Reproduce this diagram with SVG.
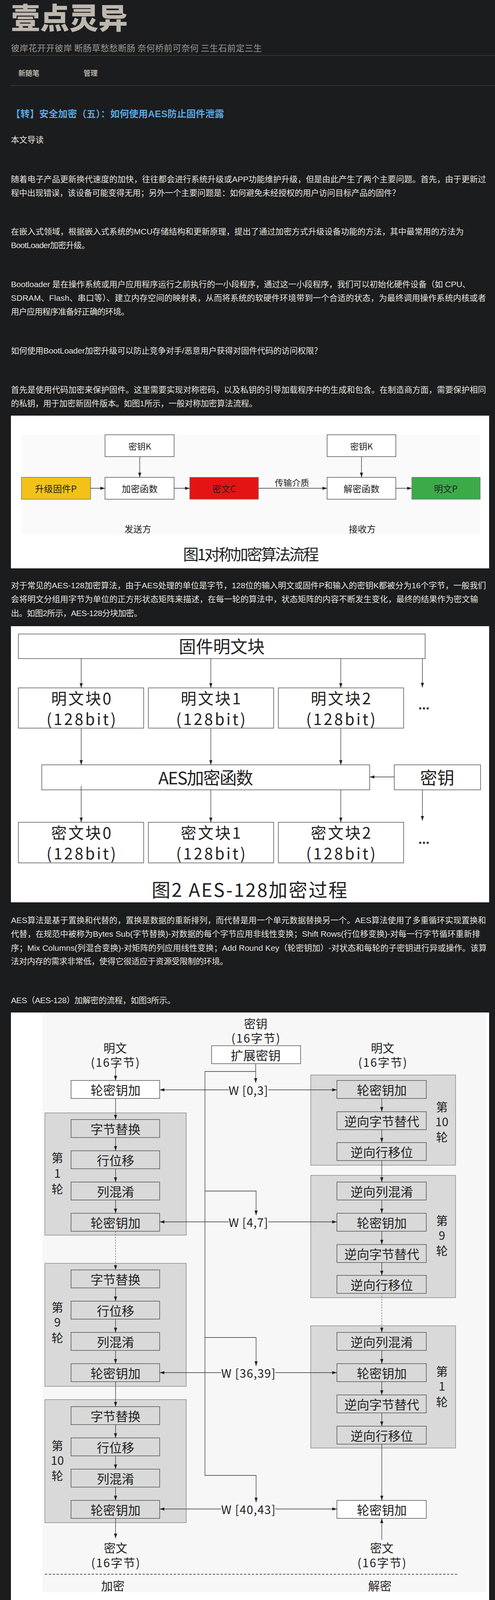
<svg xmlns="http://www.w3.org/2000/svg" width="1268" height="6971" viewBox="0 0 1268 6971">
<style>
.body{font-family:"Liberation Sans","Noto Sans CJK SC",sans-serif;font-size:21px;fill:#e6e3de;dominant-baseline:central}
.dg{font-family:"Noto Sans CJK SC","Liberation Sans",sans-serif;fill:#222;text-anchor:middle;dominant-baseline:central}
.box{fill:#fff;stroke:#555;stroke-width:1.5}
.grp{fill:#d9d9d9;stroke:#8a8a8a;stroke-width:1.5}
.gbox{fill:#d9d9d9;stroke:#555;stroke-width:1.5}
.fbox{fill:#fff;stroke:#222;stroke-width:2.5}
.ln{stroke:#333;stroke-width:1.3;fill:none}
.ln2{stroke:#222;stroke-width:1.5;fill:none}
.dash{stroke:#555;stroke-width:1.2;fill:none;stroke-dasharray:4 3}
.hr{stroke:#3c3f43;stroke-width:1.5}
</style>
<defs>
<marker id="a1" viewBox="0 0 12 8" refX="12" refY="4" markerWidth="12" markerHeight="8" orient="auto" markerUnits="userSpaceOnUse"><path d="M0,0L12,4L0,8z" fill="#222"/></marker>
<marker id="a2" viewBox="0 0 16 12" refX="16" refY="6" markerWidth="16" markerHeight="12" orient="auto" markerUnits="userSpaceOnUse"><path d="M0,0L16,6L0,12z" fill="#111"/></marker>
</defs>
<rect x="0" y="0" width="1268" height="6971" fill="#1b1c1e"/>

<g id="header">
<text x="28" y="74" font-family="Noto Sans CJK SC,sans-serif" font-size="75" font-weight="900" fill="#bdb7ae" textLength="299" lengthAdjust="spacingAndGlyphs">壹点灵异</text>
<text x="28" y="121" font-family="Noto Sans CJK SC,sans-serif" font-size="22" fill="#9c9890" dominant-baseline="central" textLength="643">彼岸花开开彼岸 断肠草愁愁断肠 奈何桥前可奈何 三生石前定三生</text>
<line class="hr" x1="28" y1="142" x2="1268" y2="142"/>
<text x="47" y="186" font-family="Noto Sans CJK SC,sans-serif" font-size="18" font-weight="bold" fill="#b5b0a8" dominant-baseline="central">新随笔</text>
<text x="214" y="186" font-family="Noto Sans CJK SC,sans-serif" font-size="18" font-weight="bold" fill="#b5b0a8" dominant-baseline="central">管理</text>
<line class="hr" x1="28" y1="219" x2="1268" y2="219"/>
<text x="28" y="291" font-family="Liberation Sans,Noto Sans CJK SC,sans-serif" font-size="24" font-weight="bold" fill="#5aa9e0" dominant-baseline="central" textLength="546">【转】安全加密（五）：如何使用AES防止固件泄露</text>
</g>

<g id="article-text">
<text class="body" x="28" y="357" textLength="84">本文导读</text>
<text class="body" x="28" y="458" textLength="1217">随着电子产品更新换代速度的加快，往往都会进行系统升级或APP功能维护升级，但是由此产生了两个主要问题。首先，由于更新过</text>
<text class="body" x="28" y="493" textLength="997">程中出现错误，该设备可能变得无用；另外一个主要问题是：如何避免未经授权的用户访问目标产品的固件？</text>
<text class="body" x="28" y="592" textLength="1160">在嵌入式领域，根据嵌入式系统的MCU存储结构和更新原理，提出了通过加密方式升级设备功能的方法，其中最常用的方法为</text>
<text class="body" x="28" y="627" textLength="202">BootLoader加密升级。</text>
<text class="body" x="28" y="727" textLength="1177">Bootloader 是在操作系统或用户应用程序运行之前执行的一小段程序，通过这一小段程序，我们可以初始化硬件设备（如 CPU、</text>
<text class="body" x="28" y="762" textLength="1217">SDRAM、Flash、串口等）、建立内存空间的映射表，从而将系统的软硬件环境带到一个合适的状态，为最终调用操作系统内核或者</text>
<text class="body" x="28" y="797" textLength="303">用户应用程序准备好正确的环境。</text>
<text class="body" x="28" y="897" textLength="797">如何使用BootLoader加密升级可以防止竞争对手/恶意用户获得对固件代码的访问权限？</text>
<text class="body" x="28" y="997" textLength="1217">首先是使用代码加密来保护固件。这里需要实现对称密码，以及私钥的引导加载程序中的生成和包含。在制造商方面，需要保护相同</text>
<text class="body" x="28" y="1032" textLength="631">的私钥，用于加密新固件版本。如图1所示，一般对称加密算法流程。</text>
<text class="body" x="28" y="1498" textLength="1217">对于常见的AES-128加密算法，由于AES处理的单位是字节，128位的输入明文或固件P和输入的密钥K都被分为16个字节，一般我们</text>
<text class="body" x="28" y="1533" textLength="1197">会将明文分组用字节为单位的正方形状态矩阵来描述，在每一轮的算法中，状态矩阵的内容不断发生变化，最终的结果作为密文输</text>
<text class="body" x="28" y="1569" textLength="336">出。如图2所示，AES-128分块加密。</text>
<text class="body" x="28" y="2355" textLength="1217">AES算法是基于置换和代替的，置换是数据的重新排列，而代替是用一个单元数据替换另一个。AES算法使用了多重循环实现置换和</text>
<text class="body" x="28" y="2390" textLength="1202">代替，在规范中被称为Bytes Sub(字节替换)-对数据的每个字节应用非线性变换；Shift Rows(行位移变换)-对每一行字节循环重新排</text>
<text class="body" x="28" y="2426" textLength="1219">序；Mix Columns(列混合变换)-对矩阵的列应用线性变换；Add Round Key（轮密钥加）-对状态和每轮的子密钥进行异或操作。该算</text>
<text class="body" x="28" y="2460" textLength="556">法对内存的需求非常低，使得它很适应于资源受限制的环境。</text>
<text class="body" x="28" y="2560" textLength="421">AES（AES-128）加解密的流程，如图3所示。</text>
<text class="body" x="28" y="4206" textLength="1217">对于实际AES（AES-128）加密过程中，在第一轮的迭代之前，会将明文和原始密钥进行异或加密运算，然后正常执行从第一轮到第</text>
<text class="body" x="28" y="4241" textLength="1144">九轮一样的加密函数，其中都会包含四个操作：字节代换、行位移、列混合和轮密钥加；在最后一轮迭代不执行列混合运算。</text>
<text class="body" x="28" y="4341" textLength="1210">解密的过程仍然为10轮，每一轮的操作都是加密操作的你操作。由于AES一轮的4个操作都是可逆的，因此解密操作的一轮就是执行</text>
<text class="body" x="28" y="4376" textLength="1217">逆行一位、逆字节代换、轮密钥加和逆列混合；同加密操作类似，最后一轮不执行逆列混合，在第一轮解密之前，执行一次密钥加操</text>
<text class="body" x="28" y="4411">作。</text>
<text class="body" x="28" y="4511" textLength="413">如图4所示，为Boot Loader固件升级流程图。</text>
<text class="body" x="28" y="6463" textLength="1217">用户程序升级成功之后，可以通过函数指针的方式调用该程序。函数在编译时都会被分配一个入口地址，该地址就是函数的指针。只</text>
<text class="body" x="28" y="6499" textLength="1217">要用一个指针变量指向这个函数的入口地址，就可以通过指针变量调用这个函数。函数指针的本质是指针变量，只不过该指针变量指</text>
<text class="body" x="28" y="6534" textLength="704">向函数，读出程序标志区的运行地址就可以通过指针变量调用新写入的程序。</text>
<text class="body" x="28" y="6632" textLength="1209">固件升级的数据加密方案，对于具有IAP功能的芯片具有普遍意义，不仅适用于网络远程升级，同样适用于本地升级。至于加密算法</text>
<text class="body" x="28" y="6669" textLength="332">可以根据MCU的能力进行灵活选择。</text>
<text class="body" x="28" y="6769" textLength="1209">例如NXP推出的跨界MCU-iMX.RT1052系列MCU具有强大的安全组件，出于安全目的，数据协处理器（DCP）提供硬件加速和密码</text>
<text class="body" x="28" y="6804" textLength="926">算法；其内置加密算法：AES-128（ECB和CBC模式）、哈希算法：SHA-1和SHA256、CRC-32等。</text>
<text class="body" x="28" y="6904" textLength="1215">SNVS、DCP内部密钥存储或通用存储器中进行密钥选择，当一个密钥被写入时，内部存储器可存储多达四个AES-128密钥，它只能</text>
<text class="body" x="28" y="6939" textLength="247">由DCP AES-128引擎读取。</text>
</g>

<!-- Figure 1 -->
<g id="fig1">
<rect x="28" y="1064" width="1225" height="391" fill="#fff"/>
<rect x="55" y="1113" width="1174" height="254" fill="#fafafa"/>
<g id="fig1-key1"><rect class="box" x="269" y="1113" width="177" height="56"/><text class="dg" x="358" y="1141" font-size="22">密钥K</text></g>
<g id="fig1-key2"><rect class="box" x="838" y="1113" width="176" height="56"/><text class="dg" x="926" y="1141" font-size="22">密钥K</text></g>
<g id="fig1-plain"><rect x="55" y="1222" width="177" height="56" fill="#f2c218" stroke="#777" stroke-width="1.5"/><text class="dg" x="143" y="1250" font-size="23" fill="#333">升级固件P</text></g>
<g id="fig1-enc"><rect class="box" x="269" y="1222" width="177" height="56"/><text class="dg" x="358" y="1250" font-size="23">加密函数</text></g>
<g id="fig1-cipher"><rect x="486" y="1222" width="176" height="56" fill="#e51414" stroke="#777" stroke-width="1.5"/><text class="dg" x="574" y="1250" font-size="23" fill="#3a1010">密文C</text></g>
<g id="fig1-dec"><rect class="box" x="838" y="1222" width="176" height="56"/><text class="dg" x="926" y="1250" font-size="23">解密函数</text></g>
<g id="fig1-out"><rect x="1055" y="1222" width="175" height="56" fill="#3daa4a" stroke="#777" stroke-width="1.5"/><text class="dg" x="1142" y="1250" font-size="23" fill="#333">明文P</text></g>
<text class="dg" x="748" y="1234" font-size="22">传输介质</text>
<text class="dg" x="353" y="1353" font-size="23">发送方</text>
<text class="dg" x="928" y="1353" font-size="23">接收方</text>
<text class="dg" x="643" y="1417" font-size="40" fill="#333" textLength="348">图1对称加密算法流程</text>
</g>

<!-- Figure 2 -->
<g id="fig2">
<rect x="28" y="1603" width="1225" height="707" fill="#fff"/>
<g id="fig2-src"><rect class="box" x="47" y="1623" width="1042" height="63"/><text class="dg" x="568" y="1653" font-size="44">固件明文块</text></g>
<g id="fig2-p0"><rect class="box" x="47" y="1761" width="321" height="103"/><text class="dg" x="208" y="1786" font-size="40" textLength="154">明文块0</text><text class="dg" x="208" y="1839" font-size="40" textLength="178">(128bit)</text></g>
<g id="fig2-p1"><rect class="box" x="380" y="1761" width="321" height="103"/><text class="dg" x="540" y="1786" font-size="40" textLength="154">明文块1</text><text class="dg" x="540" y="1839" font-size="40" textLength="178">(128bit)</text></g>
<g id="fig2-p2"><rect class="box" x="713" y="1761" width="321" height="103"/><text class="dg" x="873" y="1786" font-size="40" textLength="154">明文块2</text><text class="dg" x="873" y="1839" font-size="40" textLength="178">(128bit)</text></g>
<text x="1086" y="1816" font-family="Liberation Sans,sans-serif" font-size="34" font-weight="bold" fill="#222" text-anchor="middle">...</text>
<g id="fig2-aes"><rect class="box" x="107" y="1958" width="840" height="64"/><text class="dg" x="527" y="1989" font-size="44" textLength="243">AES加密函数</text></g>
<g id="fig2-key"><rect class="box" x="1010" y="1958" width="221" height="64"/><text class="dg" x="1120" y="1989" font-size="44">密钥</text></g>
<g id="fig2-c0"><rect class="box" x="47" y="2105" width="321" height="104"/><text class="dg" x="208" y="2130" font-size="40" textLength="154">密文块0</text><text class="dg" x="208" y="2183" font-size="40" textLength="178">(128bit)</text></g>
<g id="fig2-c1"><rect class="box" x="380" y="2105" width="321" height="104"/><text class="dg" x="540" y="2130" font-size="40" textLength="154">密文块1</text><text class="dg" x="540" y="2183" font-size="40" textLength="178">(128bit)</text></g>
<g id="fig2-c2"><rect class="box" x="713" y="2105" width="321" height="104"/><text class="dg" x="873" y="2130" font-size="40" textLength="154">密文块2</text><text class="dg" x="873" y="2183" font-size="40" textLength="178">(128bit)</text></g>
<text x="1086" y="2160" font-family="Liberation Sans,sans-serif" font-size="34" font-weight="bold" fill="#222" text-anchor="middle">...</text>
<text class="dg" x="639" y="2275" font-size="48" fill="#333" textLength="501">图2 AES-128加密过程</text>
</g>

<!-- Figure 3 -->
<g id="fig3">
<rect x="28" y="2592" width="1225" height="1571" fill="#fff"/>
<rect x="109" y="2596" width="1136" height="1480" fill="#f7f7f7"/>
<text class="dg" x="655" y="2619" font-size="30">密钥</text>
<text class="dg" x="655" y="2656" font-size="30" textLength="125">(16字节)</text>
<g id="fig3-expand"><rect class="box" x="542" y="2677" width="228" height="46"/><text class="dg" x="655" y="2700" font-size="32">扩展密钥</text></g>
<text class="dg" x="295" y="2681" font-size="30">明文</text>
<text class="dg" x="295" y="2718" font-size="30" textLength="125">(16字节)</text>
<text class="dg" x="980" y="2681" font-size="30">明文</text>
<text class="dg" x="980" y="2718" font-size="30" textLength="125">(16字节)</text>
<g id="fig3-enc-ark0"><rect class="box" x="182" y="2766" width="227" height="46"/><text class="dg" x="296" y="2789" font-size="32">轮密钥加</text></g>

<g id="fig3-enc-r1">
<rect class="grp" x="115" y="2849" width="362" height="313"/>
<rect class="gbox" x="182" y="2866" width="227" height="46"/><text class="dg" x="296" y="2889" font-size="32">字节替换</text>
<rect class="gbox" x="182" y="2946" width="227" height="46"/><text class="dg" x="296" y="2969" font-size="32">行位移</text>
<rect class="gbox" x="182" y="3026" width="227" height="46"/><text class="dg" x="296" y="3049" font-size="32">列混淆</text>
<rect class="gbox" x="182" y="3106" width="227" height="46"/><text class="dg" x="296" y="3129" font-size="32">轮密钥加</text>
<text class="dg" x="147" y="2962" font-size="30">第</text><text class="dg" x="147" y="3002" font-size="30">1</text><text class="dg" x="147" y="3042" font-size="30">轮</text>
</g>
<g id="fig3-enc-r9">
<rect class="grp" x="115" y="3234" width="362" height="315"/>
<rect class="gbox" x="182" y="3251" width="227" height="46"/><text class="dg" x="296" y="3274" font-size="32">字节替换</text>
<rect class="gbox" x="182" y="3331" width="227" height="46"/><text class="dg" x="296" y="3354" font-size="32">行位移</text>
<rect class="gbox" x="182" y="3411" width="227" height="46"/><text class="dg" x="296" y="3434" font-size="32">列混淆</text>
<rect class="gbox" x="182" y="3491" width="227" height="46"/><text class="dg" x="296" y="3514" font-size="32">轮密钥加</text>
<text class="dg" x="147" y="3345" font-size="30">第</text><text class="dg" x="147" y="3383" font-size="30">9</text><text class="dg" x="147" y="3423" font-size="30">轮</text>
</g>
<g id="fig3-enc-r10">
<rect class="grp" x="115" y="3583" width="362" height="315"/>
<rect class="gbox" x="182" y="3601" width="227" height="46"/><text class="dg" x="296" y="3624" font-size="32">字节替换</text>
<rect class="gbox" x="182" y="3681" width="227" height="46"/><text class="dg" x="296" y="3704" font-size="32">行位移</text>
<rect class="gbox" x="182" y="3761" width="227" height="46"/><text class="dg" x="296" y="3784" font-size="32">列混淆</text>
<rect class="gbox" x="182" y="3841" width="227" height="46"/><text class="dg" x="296" y="3864" font-size="32">轮密钥加</text>
<text class="dg" x="147" y="3699" font-size="30">第</text><text class="dg" x="147" y="3737" font-size="30">10</text><text class="dg" x="147" y="3776" font-size="30">轮</text>
</g>

<g id="fig3-dec-r10">
<rect class="grp" x="796" y="2752" width="371" height="231"/>
<rect class="gbox" x="863" y="2766" width="229" height="46"/><text class="dg" x="978" y="2789" font-size="32">轮密钥加</text>
<rect class="gbox" x="863" y="2846" width="229" height="46"/><text class="dg" x="978" y="2869" font-size="32">逆向字节替代</text>
<rect class="gbox" x="863" y="2925" width="229" height="46"/><text class="dg" x="978" y="2948" font-size="32">逆向行移位</text>
<text class="dg" x="1132" y="2832" font-size="30">第</text><text class="dg" x="1132" y="2870" font-size="30">10</text><text class="dg" x="1132" y="2909" font-size="30">轮</text>
</g>
<g id="fig3-dec-r9">
<rect class="grp" x="796" y="3009" width="371" height="313"/>
<rect class="gbox" x="863" y="3026" width="229" height="46"/><text class="dg" x="978" y="3049" font-size="32">逆向列混淆</text>
<rect class="gbox" x="863" y="3106" width="229" height="46"/><text class="dg" x="978" y="3129" font-size="32">轮密钥加</text>
<rect class="gbox" x="863" y="3186" width="229" height="46"/><text class="dg" x="978" y="3209" font-size="32">逆向字节替代</text>
<rect class="gbox" x="863" y="3265" width="229" height="46"/><text class="dg" x="978" y="3288" font-size="32">逆向行移位</text>
<text class="dg" x="1132" y="3123" font-size="30">第</text><text class="dg" x="1132" y="3161" font-size="30">9</text><text class="dg" x="1132" y="3200" font-size="30">轮</text>
</g>
<g id="fig3-dec-r1">
<rect class="grp" x="796" y="3394" width="371" height="313"/>
<rect class="gbox" x="863" y="3411" width="229" height="46"/><text class="dg" x="978" y="3434" font-size="32">逆向列混淆</text>
<rect class="gbox" x="863" y="3491" width="229" height="46"/><text class="dg" x="978" y="3514" font-size="32">轮密钥加</text>
<rect class="gbox" x="863" y="3571" width="229" height="46"/><text class="dg" x="978" y="3594" font-size="32">逆向字节替代</text>
<rect class="gbox" x="863" y="3651" width="229" height="46"/><text class="dg" x="978" y="3674" font-size="32">逆向行移位</text>
<text class="dg" x="1132" y="3509" font-size="30">第</text><text class="dg" x="1132" y="3547" font-size="30">1</text><text class="dg" x="1132" y="3587" font-size="30">轮</text>
</g>
<g id="fig3-dec-ark"><rect class="box" x="863" y="3841" width="229" height="46"/><text class="dg" x="978" y="3864" font-size="32">轮密钥加</text></g>

<text class="dg" x="636" y="2790" font-size="30" textLength="101">W [0,3]</text>
<text class="dg" x="636" y="3128" font-size="30" textLength="101">W [4,7]</text>
<text class="dg" x="636" y="3514" font-size="30" textLength="139">W [36,39]</text>
<text class="dg" x="636" y="3863" font-size="30" textLength="139">W [40,43]</text>

<text class="dg" x="296" y="3961" font-size="30">密文</text>
<text class="dg" x="296" y="3999" font-size="30" textLength="125">(16字节)</text>
<text class="dg" x="978" y="3961" font-size="30">密文</text>
<text class="dg" x="978" y="3999" font-size="30" textLength="125">(16字节)</text>
<line x1="115" y1="4030" x2="1172" y2="4030" stroke="#555" stroke-width="2" stroke-dasharray="6 4"/>
<text class="dg" x="289" y="4058" font-size="30">加密</text>
<text class="dg" x="973" y="4058" font-size="30">解密</text>
<text class="dg" x="643" y="4138" font-size="48" fill="#333" textLength="493">图3AES-128加解密流程</text>
</g>

<!-- Figure 4 -->
<g id="fig4">
<rect x="28" y="4543" width="839" height="1827" fill="#fff"/>
<rect x="121" y="4560" width="679" height="1707" fill="#f9f9f9"/>
<g id="fig4-start"><rect x="335" y="4583" width="258" height="78" rx="39" fill="#fff" stroke="#333" stroke-width="2"/><text class="dg" x="464" y="4622" font-size="46">开始</text></g>
<g id="fig4-init"><rect class="fbox" x="267" y="4727" width="394" height="71"/><text class="dg" x="464" y="4762" font-size="47">初始化硬件设备</text></g>
<g id="fig4-cfg"><rect class="fbox" x="267" y="4864" width="394" height="70"/><text class="dg" x="464" y="4898" font-size="47">配置系统参数</text></g>
<g id="fig4-chk"><rect class="fbox" x="267" y="5002" width="394" height="69"/><text class="dg" x="464" y="5036" font-size="47">检查硬件模块</text></g>
<g id="fig4-fb"><rect class="fbox" x="267" y="5138" width="394" height="69"/><text class="dg" x="464" y="5172" font-size="47">检查结果反馈</text></g>
<g id="fig4-d1"><polygon points="464,5277 711,5369 464,5463 217,5369" fill="#fff" stroke="#555" stroke-width="2"/><text class="dg" x="464" y="5369" font-size="48" textLength="380">是否更新用户程序</text></g>
<g id="fig4-dl"><rect class="fbox" x="267" y="5530" width="394" height="70"/><text class="dg" x="464" y="5564" font-size="47">用户程序下载</text></g>
<g id="fig4-aes"><rect class="fbox" x="267" y="5666" width="394" height="72"/><text class="dg" x="464" y="5701" font-size="47" textLength="166">AES解密</text></g>
<g id="fig4-flash"><rect class="fbox" x="267" y="5803" width="394" height="71"/><text class="dg" x="464" y="5838" font-size="47" textLength="212">Flash编程</text></g>
<g id="fig4-d2"><polygon points="464,5939 711,6033 464,6128 217,6033" fill="#fff" stroke="#555" stroke-width="2"/><text class="dg" x="464" y="6033" font-size="48" textLength="380">用户程序是否有效</text></g>
<g id="fig4-run"><rect class="fbox" x="267" y="6196" width="394" height="70"/><text class="dg" x="464" y="6230" font-size="47">运行用户程序</text></g>
<text class="dg" x="178" y="5333" font-size="42">否</text>
<text class="dg" x="426" y="5495" font-size="42">是</text>
<text class="dg" x="760" y="6008" font-size="42">否</text>
<text class="dg" x="501" y="6162" font-size="42">是</text>
<text class="dg" x="467" y="6327" font-size="44" fill="#333" textLength="592">图4Boot Loader固件升级流程</text>
</g>

<g id="connectors">
<!-- fig1 -->
<path class="ln" d="M358,1169V1222" marker-end="url(#a1)"/>
<path class="ln" d="M926,1169V1222" marker-end="url(#a1)"/>
<path class="ln" d="M232,1250H269" marker-end="url(#a1)"/>
<path class="ln" d="M446,1250H486" marker-end="url(#a1)"/>
<path class="ln" d="M662,1250H838" marker-end="url(#a1)"/>
<path class="ln" d="M1014,1250H1055" marker-end="url(#a1)"/>
<!-- fig2 -->
<path class="ln" d="M208,1686V1761" marker-end="url(#a1)"/>
<path class="ln" d="M540,1686V1761" marker-end="url(#a1)"/>
<path class="ln" d="M873,1686V1761" marker-end="url(#a1)"/>
<path class="ln" d="M1082,1686V1760" marker-end="url(#a1)"/>
<path class="ln" d="M208,1864V1958" marker-end="url(#a1)"/>
<path class="ln" d="M540,1864V1958" marker-end="url(#a1)"/>
<path class="ln" d="M873,1864V1958" marker-end="url(#a1)"/>
<path class="ln" d="M1010,1989H947" marker-end="url(#a1)"/>
<path class="ln" d="M208,2012V2105" marker-end="url(#a1)"/>
<path class="ln" d="M540,2022V2105" marker-end="url(#a1)"/>
<path class="ln" d="M873,2022V2105" marker-end="url(#a1)"/>
<path class="ln" d="M1082,2022V2101" marker-end="url(#a1)"/>
<!-- fig3 key schedule -->
<path class="ln" d="M655,2723V2772" marker-end="url(#a1)"/>
<path class="ln" d="M655,2743H525V3777H656V3846" marker-end="url(#a1)"/>
<path class="ln" d="M525,3049H656V3111" marker-end="url(#a1)"/>
<path class="ln" d="M525,3424H656V3497" marker-end="url(#a1)"/>
<path class="ln" d="M586,2790H409" marker-end="url(#a1)"/>
<path class="ln" d="M687,2790H863" marker-end="url(#a1)"/>
<path class="ln" d="M586,3128H409" marker-end="url(#a1)"/>
<path class="ln" d="M687,3128H863" marker-end="url(#a1)"/>
<path class="ln" d="M566,3514H409" marker-end="url(#a1)"/>
<path class="ln" d="M705,3514H863" marker-end="url(#a1)"/>
<path class="ln" d="M566,3863H409" marker-end="url(#a1)"/>
<path class="ln" d="M705,3863H863" marker-end="url(#a1)"/>
<!-- fig3 encryption column -->
<path class="ln" d="M296,2732V2766" marker-end="url(#a1)"/>
<path class="ln" d="M296,2812V2866" marker-end="url(#a1)"/>
<path class="ln" d="M296,2912V2946" marker-end="url(#a1)"/>
<path class="ln" d="M296,2992V3026" marker-end="url(#a1)"/>
<path class="ln" d="M296,3072V3106" marker-end="url(#a1)"/>
<path class="dash" d="M296,3152V3251" marker-end="url(#a1)"/>
<path class="ln" d="M296,3297V3331" marker-end="url(#a1)"/>
<path class="ln" d="M296,3377V3411" marker-end="url(#a1)"/>
<path class="ln" d="M296,3457V3491" marker-end="url(#a1)"/>
<path class="ln" d="M296,3537V3601" marker-end="url(#a1)"/>
<path class="ln" d="M296,3647V3681" marker-end="url(#a1)"/>
<path class="ln" d="M296,3727V3761" marker-end="url(#a1)"/>
<path class="ln" d="M296,3807V3841" marker-end="url(#a1)"/>
<path class="ln" d="M296,3887V3938" marker-end="url(#a1)"/>
<!-- fig3 decryption column -->
<path class="ln" d="M978,2812V2846" marker-end="url(#a1)"/>
<path class="ln" d="M978,2892V2925" marker-end="url(#a1)"/>
<path class="ln" d="M978,2971V3026" marker-end="url(#a1)"/>
<path class="ln" d="M978,3072V3106" marker-end="url(#a1)"/>
<path class="ln" d="M978,3152V3186" marker-end="url(#a1)"/>
<path class="ln" d="M978,3232V3265" marker-end="url(#a1)"/>
<path class="dash" d="M978,3311V3411" marker-end="url(#a1)"/>
<path class="ln" d="M978,3457V3491" marker-end="url(#a1)"/>
<path class="ln" d="M978,3537V3571" marker-end="url(#a1)"/>
<path class="ln" d="M978,3617V3651" marker-end="url(#a1)"/>
<path class="ln" d="M978,3697V3841" marker-end="url(#a1)"/>
<path class="ln" d="M978,3942V3887" marker-end="url(#a1)"/>
<!-- fig4 -->
<path class="ln2" d="M464,4661V4727" marker-end="url(#a2)"/>
<path class="ln2" d="M464,4798V4864" marker-end="url(#a2)"/>
<path class="ln2" d="M464,4934V5002" marker-end="url(#a2)"/>
<path class="ln2" d="M464,5071V5138" marker-end="url(#a2)"/>
<path class="ln2" d="M464,5207V5277" marker-end="url(#a2)"/>
<path class="ln2" d="M464,5463V5530" marker-end="url(#a2)"/>
<path class="ln2" d="M464,5600V5666" marker-end="url(#a2)"/>
<path class="ln2" d="M464,5738V5803" marker-end="url(#a2)"/>
<path class="ln2" d="M464,5874V5939" marker-end="url(#a2)"/>
<path class="ln2" d="M464,6128V6196" marker-end="url(#a2)"/>
<path class="ln2" d="M217,5369H120V6033H217" marker-end="url(#a2)"/>
<path class="ln2" d="M711,6033H803V5488H466" marker-end="url(#a2)"/>
</g>
</svg>
